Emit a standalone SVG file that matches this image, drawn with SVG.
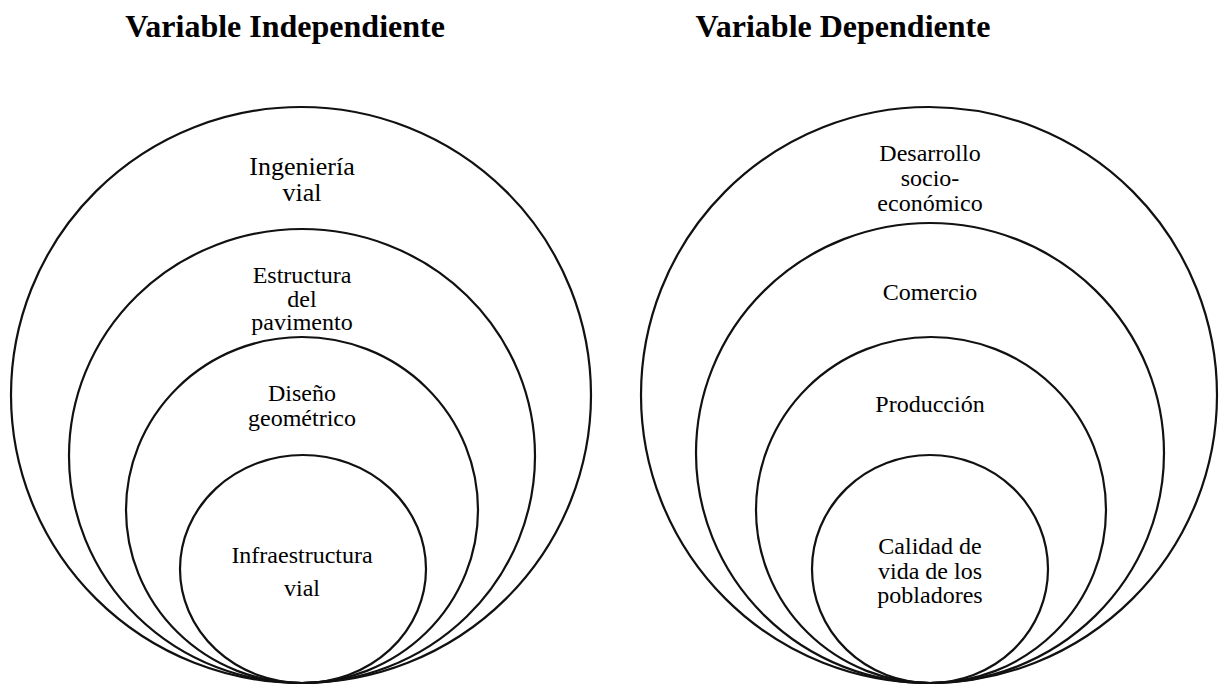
<svg xmlns="http://www.w3.org/2000/svg" width="1219" height="685" viewBox="0 0 1219 685">
<style>
.ring{fill:none;stroke:#111;stroke-width:2.2}
.lbl{font-family:"Liberation Serif","Times New Roman",serif;font-size:24px;fill:#000;text-anchor:middle}
.big{font-size:26px}
.title{font-family:"Liberation Serif","Times New Roman",serif;font-size:32px;font-weight:bold;fill:#000;text-anchor:middle}
</style>
<rect width="1219" height="685" fill="#fff"/>
<g id="titles">
<text class="title" x="285" y="37">Variable Independiente</text>
<text class="title" x="843" y="37">Variable Dependiente</text>
</g>
<g id="ingenieria-vial">
<ellipse class="ring" cx="301" cy="395" rx="290" ry="288"/>
<text class="lbl big" x="302" y="175">Ingeniería</text>
<text class="lbl big" x="302" y="201">vial</text>
</g>
<g id="estructura-pavimento">
<ellipse class="ring" cx="302" cy="456" rx="233" ry="227"/>
<text class="lbl" x="302" y="283">Estructura</text>
<text class="lbl" x="302" y="307">del</text>
<text class="lbl" x="302" y="330">pavimento</text>
</g>
<g id="diseno-geometrico">
<ellipse class="ring" cx="302" cy="510" rx="176" ry="173"/>
<text class="lbl" x="302" y="401">Diseño</text>
<text class="lbl" x="302" y="426">geométrico</text>
</g>
<g id="infraestructura-vial">
<ellipse class="ring" cx="303" cy="569" rx="123" ry="114"/>
<text class="lbl" x="302" y="563">Infraestructura</text>
<text class="lbl" x="302" y="596">vial</text>
</g>
<g id="desarrollo">
<ellipse class="ring" cx="929" cy="395" rx="288" ry="288"/>
<text class="lbl" x="930" y="161">Desarrollo</text>
<text class="lbl" x="930" y="186">socio-</text>
<text class="lbl" x="930" y="211">económico</text>
</g>
<g id="comercio">
<ellipse class="ring" cx="930" cy="453" rx="234" ry="230"/>
<text class="lbl" x="930" y="300">Comercio</text>
</g>
<g id="produccion">
<ellipse class="ring" cx="931" cy="510" rx="175" ry="173"/>
<text class="lbl" x="930" y="412">Producción</text>
</g>
<g id="calidad-vida">
<ellipse class="ring" cx="930" cy="569" rx="118" ry="114"/>
<text class="lbl" x="930" y="554">Calidad de</text>
<text class="lbl" x="930" y="579">vida de los</text>
<text class="lbl" x="930" y="603">pobladores</text>
</g>
<g id="connectors"/>
</svg>
